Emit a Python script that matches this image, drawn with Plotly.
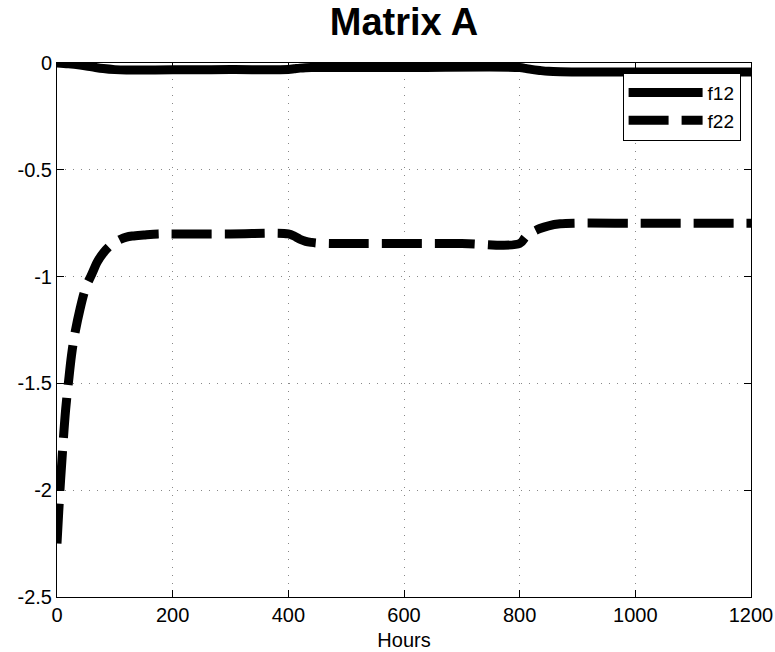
import plotly.graph_objects as go

# ---- data ----
hours_f12 = [0, 20, 40, 60, 80, 100, 120, 200, 300, 400, 410, 420, 430, 440, 450,
             600, 800, 810, 820, 835, 850, 870, 900, 1000, 1100, 1200]
f12 = [0.0, -0.004, -0.010, -0.018, -0.026, -0.031, -0.033, -0.032, -0.031, -0.030,
       -0.027, -0.024, -0.022, -0.021, -0.021, -0.021, -0.021, -0.025, -0.030,
       -0.035, -0.039, -0.041, -0.042, -0.042, -0.042, -0.042]

hours_f22 = [0, 3, 6, 10, 15, 20, 25, 30, 40, 50, 60, 70, 80, 90, 100, 110, 120,
             130, 150, 175, 200, 300, 400, 410, 420, 430, 440, 450, 470, 500, 600,
             700, 800, 810, 820, 835, 850, 870, 900, 1000, 1100, 1200]
f22 = [-2.25, -2.10, -1.96, -1.80, -1.62, -1.49, -1.37, -1.28, -1.15, -1.05, -0.99,
       -0.93, -0.89, -0.86, -0.84, -0.825, -0.815, -0.81, -0.805, -0.80, -0.80,
       -0.80, -0.80, -0.81, -0.825, -0.835, -0.84, -0.843, -0.845, -0.845, -0.845,
       -0.845, -0.845, -0.815, -0.795, -0.775, -0.762, -0.753, -0.75, -0.75, -0.75,
       -0.75]

x_ticks = [0, 200, 400, 600, 800, 1000, 1200]
y_ticks = [0, -0.5, -1, -1.5, -2, -2.5]
y_tick_labels = ["0", "-0.5", "-1", "-1.5", "-2", "-2.5"]

FONT = "Liberation Sans, Arial, Helvetica, sans-serif"

fig = go.Figure()
fig.add_trace(go.Scatter(x=hours_f12, y=f12, mode="lines", name="f12",
                         line=dict(color="black", width=9, shape="spline")))
fig.add_trace(go.Scatter(x=hours_f22, y=f22, mode="lines", name="f22",
                         line=dict(color="black", width=9, dash="40px,13px",
                                   shape="spline")))

axis_common = dict(
    showline=True, linecolor="black", linewidth=1, mirror="ticks",
    ticks="inside", ticklen=7, tickcolor="black", tickwidth=1,
    showgrid=True, gridcolor="#888", gridwidth=1, griddash="1px,7px",
    zeroline=False, automargin=False,
    tickfont=dict(size=20, color="black", family=FONT),
)

fig.update_layout(
    width=775, height=652,
    margin=dict(l=57, r=24, t=63, b=55),
    paper_bgcolor="white", plot_bgcolor="white",
    font=dict(family=FONT, color="black"),
    title=dict(text="<b>Matrix A</b>", x=0.5213, xanchor="center",
               y=0.966, yanchor="middle", yref="container",
               font=dict(size=38, color="black", family=FONT)),
    xaxis=dict(range=[0, 1200], tickvals=x_ticks,
               title=dict(text="Hours", font=dict(size=20, color="black"), standoff=7),
               **axis_common),
    yaxis=dict(range=[-2.5, 0], tickvals=y_ticks, ticktext=y_tick_labels,
               **axis_common),
    legend=dict(x=0.985, xanchor="right", y=0.982, yanchor="top",
                bgcolor="white", bordercolor="black", borderwidth=1,
                font=dict(size=19, color="black", family=FONT),
                itemwidth=74, tracegroupgap=0),
    showlegend=True,
)

fig.write_html("out.html",
               config={"displayModeBar": False},
               post_script="document.body.style.margin='0';document.body.style.overflow='hidden';")
